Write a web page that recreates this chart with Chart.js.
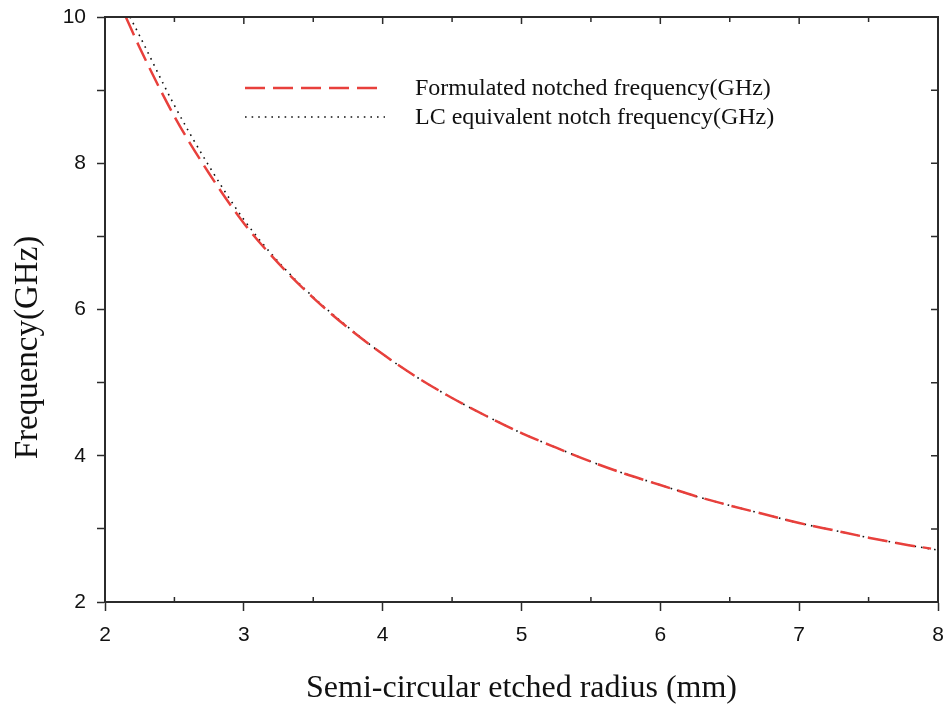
<!DOCTYPE html>
<html>
<head>
<meta charset="utf-8">
<script src="https://cdn.jsdelivr.net/npm/chart.js@4"></script>
<style>
  html, body { margin: 0; padding: 0; background: #fff; }
  #wrap { width: 948px; height: 705px; }
</style>
</head>
<body>
<div id="wrap"><canvas id="chart" width="948" height="705"></canvas></div>
<script>
// radius (mm) -> notch frequency (GHz)
var radiusFormulated = [2.15, 2.25, 2.5, 2.75, 3.0, 3.25, 3.5, 3.75, 4.0, 4.25, 4.5, 4.75, 5.0, 5.25, 5.5, 5.75, 6.0, 6.25, 6.5, 6.75, 7.0, 7.25, 7.5, 7.75, 7.95];
var freqFormulated   = [10.0, 9.58, 8.64, 7.86, 7.18, 6.63, 6.16, 5.75, 5.39, 5.07, 4.79, 4.54, 4.31, 4.11, 3.92, 3.75, 3.60, 3.45, 3.32, 3.20, 3.08, 2.98, 2.88, 2.79, 2.73];

var radiusLC = [2.18, 2.25, 2.5, 2.75, 3.0, 3.25, 3.5, 3.75, 4.0, 4.25, 4.5, 4.75, 5.0, 5.25, 5.5, 5.75, 6.0, 6.25, 6.5, 6.75, 7.0, 7.25, 7.5, 7.75, 8.0];
var freqLC   = [10.0, 9.74, 8.79, 7.96, 7.23, 6.65, 6.17, 5.76, 5.39, 5.07, 4.79, 4.54, 4.31, 4.11, 3.92, 3.75, 3.60, 3.45, 3.32, 3.20, 3.08, 2.98, 2.88, 2.79, 2.71];

var seriesNames = ['Formulated notched frequency(GHz)', 'LC equivalent notch frequency(GHz)'];
var xTicks = [2, 3, 4, 5, 6, 7, 8];
var yTicks = [2, 4, 6, 8, 10];
var yTitle = 'Frequency(GHz)';

var axisColor = '#2b2b2b';
var redColor = '#e8403c';

function toPoints(xs, ys) {
    var pts = [];
    for (var i = 0; i < xs.length; i++) {
        pts.push({ x: xs[i], y: ys[i] });
    }
    return pts;
}

// frame + inward ticks on the other sides, legend inside the plot, y title
var framePlugin = {
    id: 'frame',
    afterDraw: function (chart) {
        var ctx = chart.ctx;
        var a = chart.chartArea;
        var xs = chart.scales.x;
        var ys = chart.scales.y;
        ctx.save();
        ctx.strokeStyle = axisColor;
        ctx.lineWidth = 2;
        ctx.strokeRect(a.left, a.top, a.right - a.left, a.bottom - a.top);

        ctx.lineWidth = 1.5;
        ctx.beginPath();
        xs.ticks.forEach(function (t) {
            var px = xs.getPixelForValue(t.value);
            var major = Number.isInteger(t.value);
            var len = major ? 7 : 5;
            // top, inward
            ctx.moveTo(px, a.top);
            ctx.lineTo(px, a.top + len);
            // bottom minor, inward
            if (!major) {
                ctx.moveTo(px, a.bottom);
                ctx.lineTo(px, a.bottom - len);
            }
        });
        ys.ticks.forEach(function (t) {
            var py = ys.getPixelForValue(t.value);
            ctx.moveTo(a.right, py);
            ctx.lineTo(a.right - 7, py);
        });
        ctx.stroke();

        // legend
        var lx0 = a.left + 140, lx1 = a.left + 280, tx = a.left + 310;
        var rows = [a.top + 71, a.top + 100];
        ctx.font = '24px "Liberation Serif", serif';
        ctx.fillStyle = '#111';
        ctx.textBaseline = 'middle';
        chart.data.datasets.forEach(function (ds, i) {
            ctx.beginPath();
            ctx.strokeStyle = ds.borderColor;
            ctx.lineWidth = ds.borderWidth;
            ctx.setLineDash(ds.borderDash);
            ctx.moveTo(lx0, rows[i]);
            ctx.lineTo(lx1, rows[i]);
            ctx.stroke();
            ctx.setLineDash([]);
            ctx.fillText(ds.label, tx, rows[i] + 1);
        });

        // y axis title, sits a bit below the axis middle in the original
        ctx.translate(28, (a.top + a.bottom) / 2 + 38);
        ctx.rotate(-Math.PI / 2);
        ctx.font = '33px "Liberation Serif", serif';
        ctx.textAlign = 'center';
        ctx.fillText(yTitle, 0, 0);
        ctx.restore();
    }
};

new Chart(document.getElementById('chart'), {
    type: 'line',
    data: {
        datasets: [
            {
                label: seriesNames[0],
                data: toPoints(radiusFormulated, freqFormulated),
                borderColor: redColor,
                borderWidth: 2.5,
                borderDash: [20, 8],
                pointRadius: 0,
                cubicInterpolationMode: 'monotone',
                fill: false
            },
            {
                label: seriesNames[1],
                data: toPoints(radiusLC, freqLC),
                borderColor: '#111',
                borderWidth: 1.6,
                borderDash: [1.6, 5],
                pointRadius: 0,
                cubicInterpolationMode: 'monotone',
                fill: false
            }
        ]
    },
    options: {
        responsive: false,
        animation: false,
        layout: { padding: { top: 17, right: 10, left: 0, bottom: 0 } },
        plugins: {
            legend: { display: false },
            tooltip: { enabled: false }
        },
        scales: {
            x: {
                type: 'linear',
                min: 2,
                max: 8,
                ticks: {
                    stepSize: 0.5,
                    autoSkip: false,
                    maxRotation: 0,
                    padding: 12,
                    color: '#111',
                    font: { family: '"Liberation Sans", Arial, sans-serif', size: 21 },
                    callback: function (v) {
                        return xTicks.indexOf(v) >= 0 ? String(v) : '';
                    }
                },
                grid: {
                    drawOnChartArea: false,
                    drawTicks: true,
                    tickLength: 9,
                    tickWidth: 1.5,
                    tickColor: function (c) {
                        return Number.isInteger(c.tick.value) ? axisColor : 'rgba(0,0,0,0)';
                    }
                },
                border: { display: true, color: axisColor, width: 2 },
                title: {
                    display: true,
                    text: 'Semi-circular etched radius (mm)',
                    color: '#111',
                    font: { family: '"Liberation Serif", serif', size: 32, lineHeight: 1 },
                    padding: { top: 22, bottom: 0 }
                },
                afterFit: function (s) {
                    s.height = 103;
                    s.paddingLeft = 0;
                    s.paddingRight = 0;
                }
            },
            y: {
                type: 'linear',
                min: 2,
                max: 10,
                ticks: {
                    stepSize: 1,
                    autoSkip: false,
                    padding: 11,
                    color: '#111',
                    font: { family: '"Liberation Sans", Arial, sans-serif', size: 21 },
                    callback: function (v) {
                        return yTicks.indexOf(v) >= 0 ? String(v) : '';
                    }
                },
                grid: {
                    drawOnChartArea: false,
                    drawTicks: true,
                    tickLength: 8,
                    tickWidth: 1.5,
                    tickColor: axisColor
                },
                border: { display: true, color: axisColor, width: 2 },
                title: { display: false },
                afterFit: function (s) {
                    s.width = 105;
                    s.paddingTop = 0;
                    s.paddingBottom = 0;
                }
            }
        }
    },
    plugins: [framePlugin]
});
</script>
</body>
</html>
